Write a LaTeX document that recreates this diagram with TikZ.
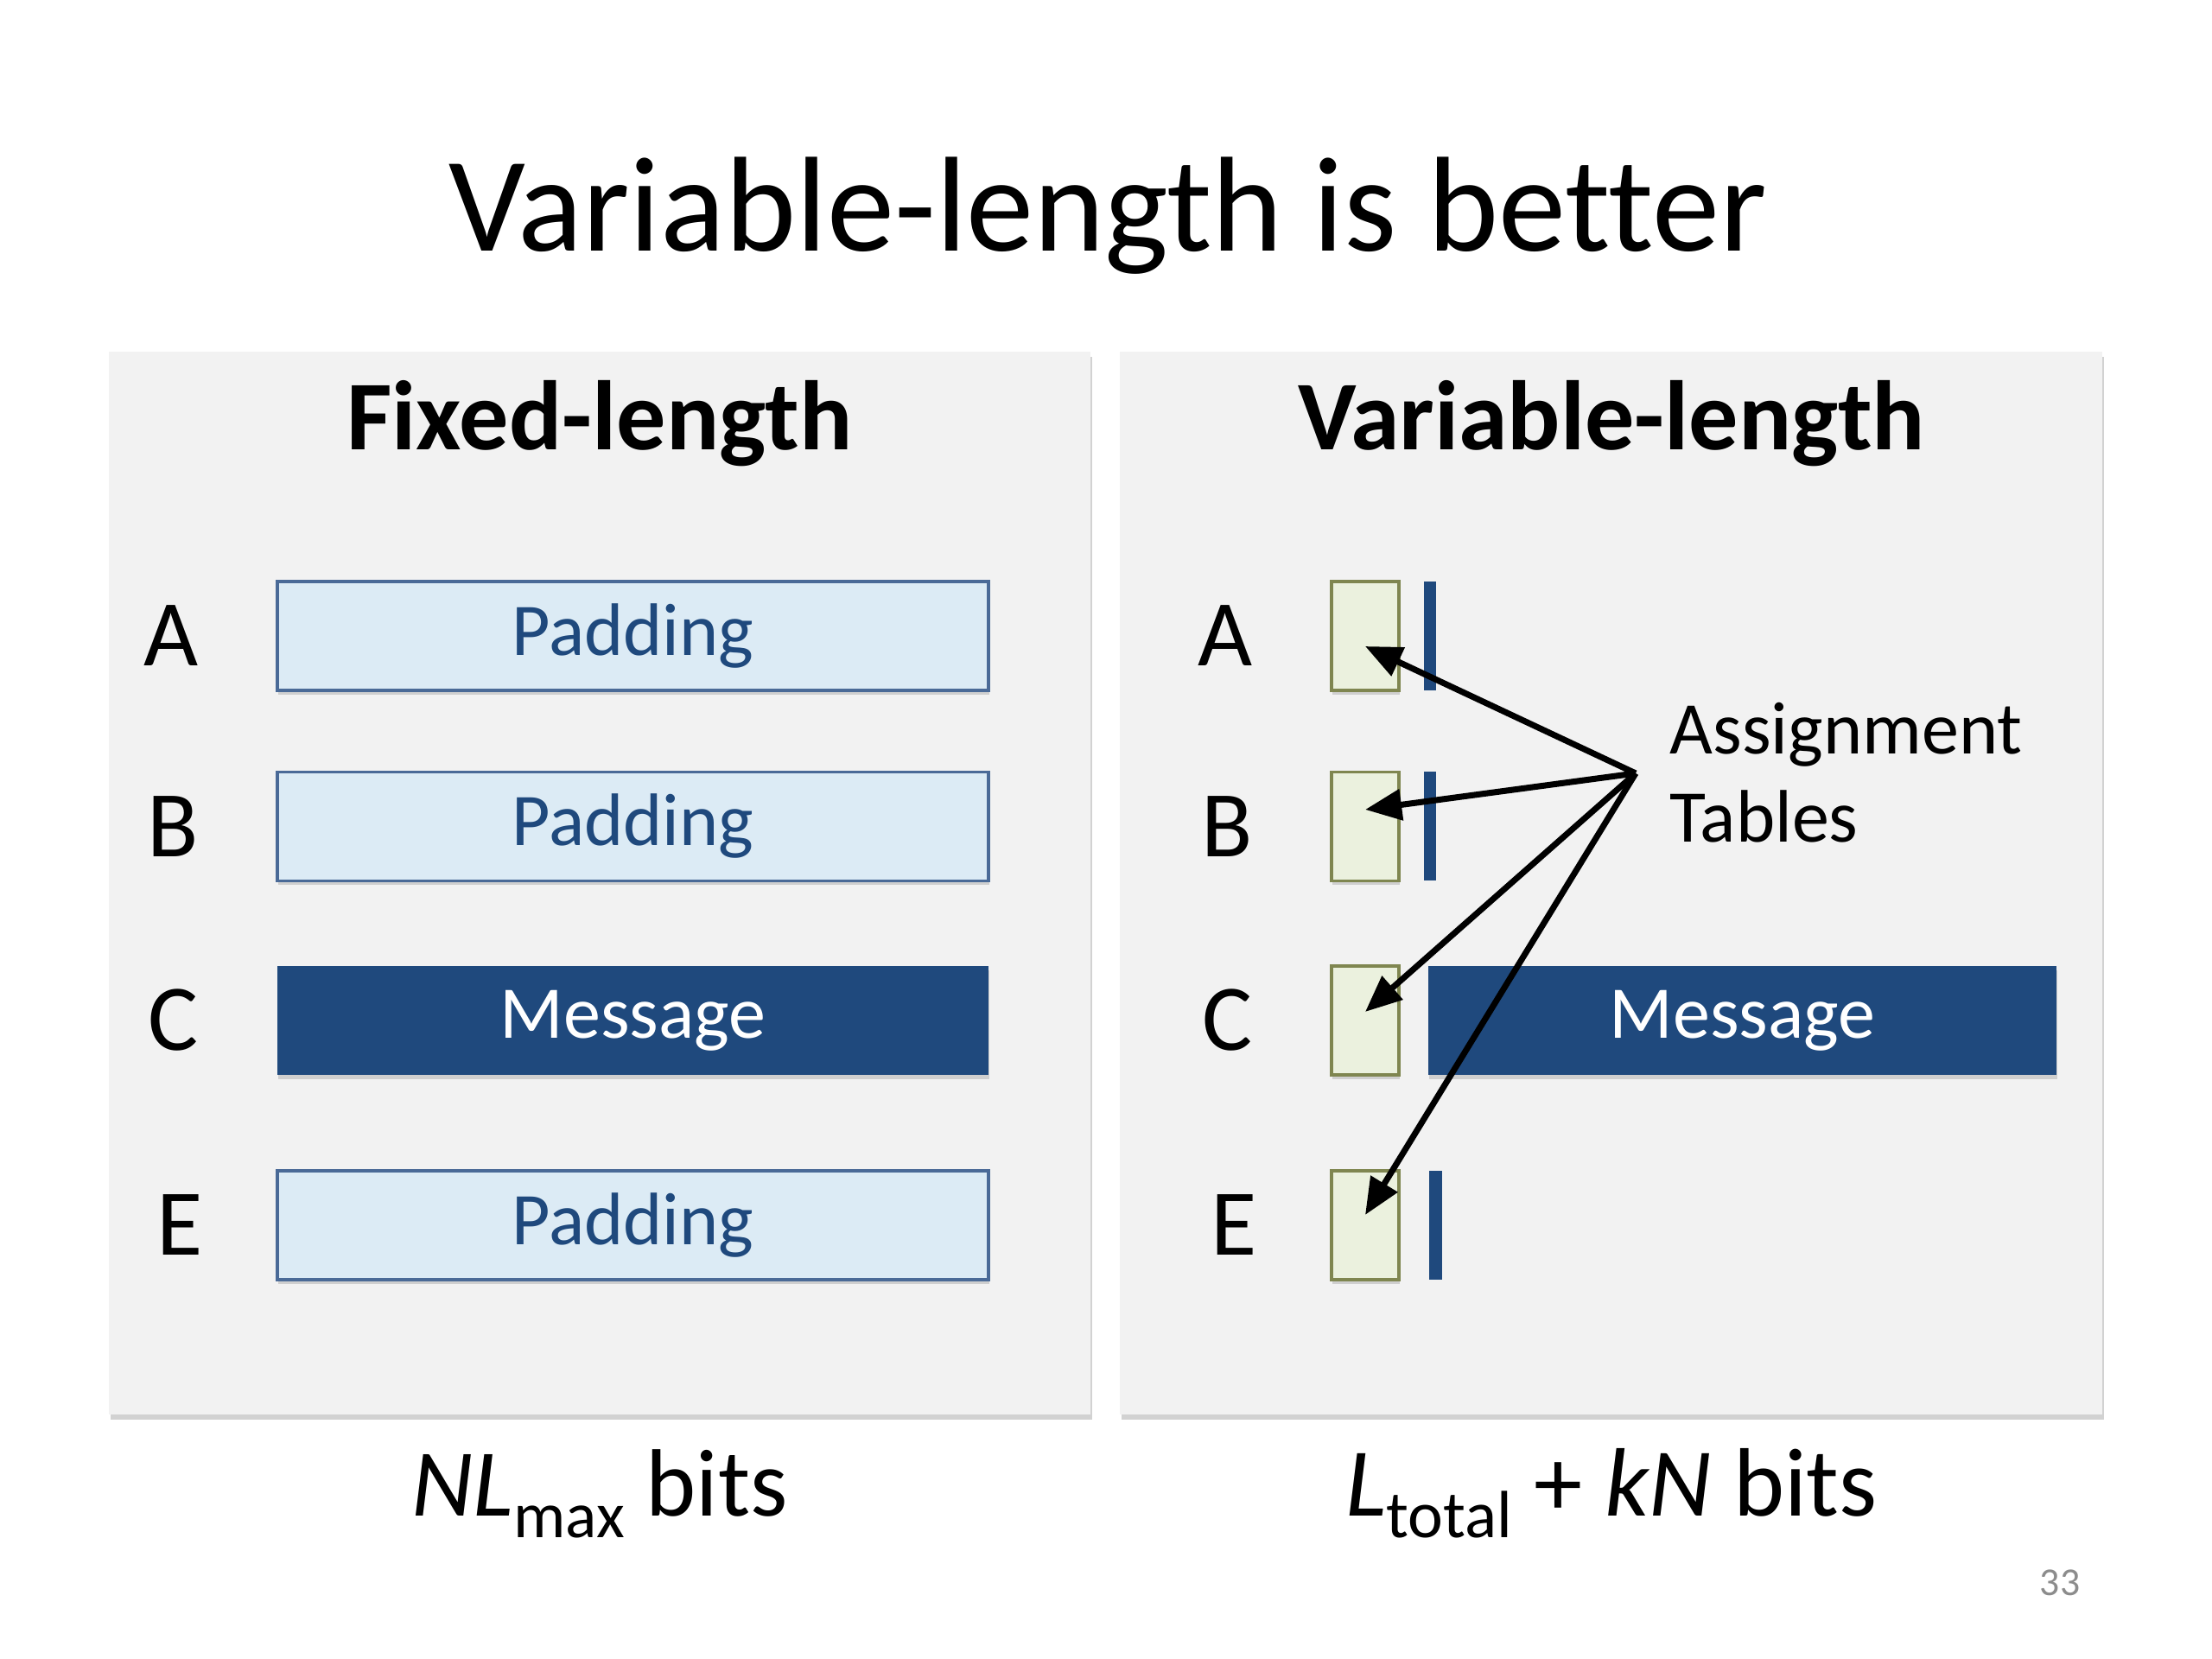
\documentclass[tikz,border=0pt]{standalone}
\usepackage{fontspec}
\setmainfont{Carlito}[Ligatures=NoCommon]
\usetikzlibrary{shadows,arrows.meta}
\definecolor{panelgray}{HTML}{F2F2F2}
\definecolor{padfill}{HTML}{DCEBF5}
\definecolor{padline}{HTML}{4A6A97}
\definecolor{navy}{HTML}{1F497D}
\definecolor{tabfill}{HTML}{EBF1DE}
\definecolor{tabline}{HTML}{7F8650}
\begin{document}
\begin{tikzpicture}[
	panel/.style  = {fill=panelgray, drop shadow={shadow xshift=0.02cm, shadow yshift=-0.06cm, opacity=0.35}},
	padbox/.style = {draw=padline, line width=1.1pt, fill=padfill, text=navy, inner sep=0pt,
		minimum width=8.23cm, minimum height=1.26cm, font=\fontsize{24.5}{29}\selectfont,
		drop shadow={shadow xshift=0.01cm, shadow yshift=-0.05cm, opacity=0.3}},
	msgbox/.style = {fill=navy, text=white, inner sep=0pt, minimum height=1.26cm,
		font=\fontsize{24.5}{29}\selectfont,
		drop shadow={shadow xshift=0.01cm, shadow yshift=-0.05cm, opacity=0.3}},
	tabbox/.style = {draw=tabline, line width=1.1pt, fill=tabfill, inner sep=0pt,
		minimum width=0.78cm, minimum height=1.26cm,
		drop shadow={shadow xshift=0.01cm, shadow yshift=-0.05cm, opacity=0.3}},
	bar/.style    = {fill=navy, inner sep=0pt, minimum width=0.14cm, minimum height=1.26cm},
	letter/.style = {anchor=east, inner sep=0pt, font=\fontsize{31}{36}\selectfont},
	points/.style = {line width=2pt, -{Triangle[length=12pt,width=10pt]}},
	]
	\useasboundingbox (0,0) rectangle (25.6,19.2);
	\fill[white] (0,0) rectangle (25.6,19.2);

	\node[anchor=base, font=\fontsize{44.5}{54}\selectfont] (title) at (12.82,16.29) {Variable-length is better};

	\path[panel] (1.26,2.83) rectangle (12.62,15.13);
	\path[panel] (12.96,2.83) rectangle (24.33,15.13);

	\node[anchor=base, font=\fontsize{32.5}{40}\selectfont\bfseries] (fixedhead) at (6.94,13.99) {Fixed-length};
	\node[anchor=base, font=\fontsize{32.5}{40}\selectfont\bfseries] (varhead) at (18.65,13.99) {Variable-length};

	% fixed-length rows
	\node[letter] (la) at (2.30,11.84) {A};
	\node[letter] (lb) at (2.30,9.635) {B};
	\node[letter] (lc) at (2.30,7.39) {C};
	\node[letter] (le) at (2.35,5.02) {E};
	\node[padbox] (pada) at (7.325,11.84) {Padding};
	\node[padbox] (padb) at (7.325,9.635) {Padding};
	\node[msgbox, minimum width=8.23cm] (msgc) at (7.325,7.39) {Message};
	\node[padbox] (pade) at (7.325,5.02) {Padding};

	% variable-length rows
	\node[letter] (ra) at (14.50,11.84) {A};
	\node[letter] (rb) at (14.50,9.635) {B};
	\node[letter] (rc) at (14.50,7.39) {C};
	\node[letter] (re) at (14.55,5.02) {E};
	\node[tabbox] (taba) at (15.80,11.84) {};
	\node[tabbox] (tabb) at (15.80,9.635) {};
	\node[tabbox] (tabc) at (15.80,7.39) {};
	\node[tabbox] (tabe) at (15.80,5.02) {};
	\node[bar] (bara) at (16.55,11.84) {};
	\node[bar] (barb) at (16.55,9.635) {};
	\node[msgbox, minimum width=7.27cm] (msgr) at (20.165,7.39) {Message};
	\node[bar, minimum width=0.15cm] (bare) at (16.61,5.02) {};

	\node[anchor=west, align=left, inner sep=0pt, font=\fontsize{24.5}{29}\selectfont] (tables) at (19.32,10.26) {
		Assignment\\ Tables
	};
	\coordinate (hub) at (18.93,10.25);
	\draw[points] (hub) -- ([yshift=-0.12cm]taba.center);
	\draw[points] (hub) -- ([yshift=0.195cm]tabb.center);
	\draw[points] (hub) -- ([yshift=0.10cm]tabc.center);
	\draw[points] (hub) -- ([yshift=0.12cm]tabe.center);

	\node[anchor=base, font=\fontsize{31.5}{36}\selectfont] (fixedbits) at (6.94,1.65) {
		{\itshape NL}\raisebox{-7pt}{\fontsize{21.5}{24}\selectfont max} bits
	};
	\node[anchor=base, font=\fontsize{32}{36}\selectfont] (varbits) at (18.65,1.65) {
		{\itshape L}\raisebox{-7pt}{\fontsize{22}{24}\selectfont total} + {\itshape kN} bits
	};
	\node[text=black!45, font=\fontsize{13}{15}\selectfont] (pagenum) at (23.84,0.88) {33};
\end{tikzpicture}
\end{document}
